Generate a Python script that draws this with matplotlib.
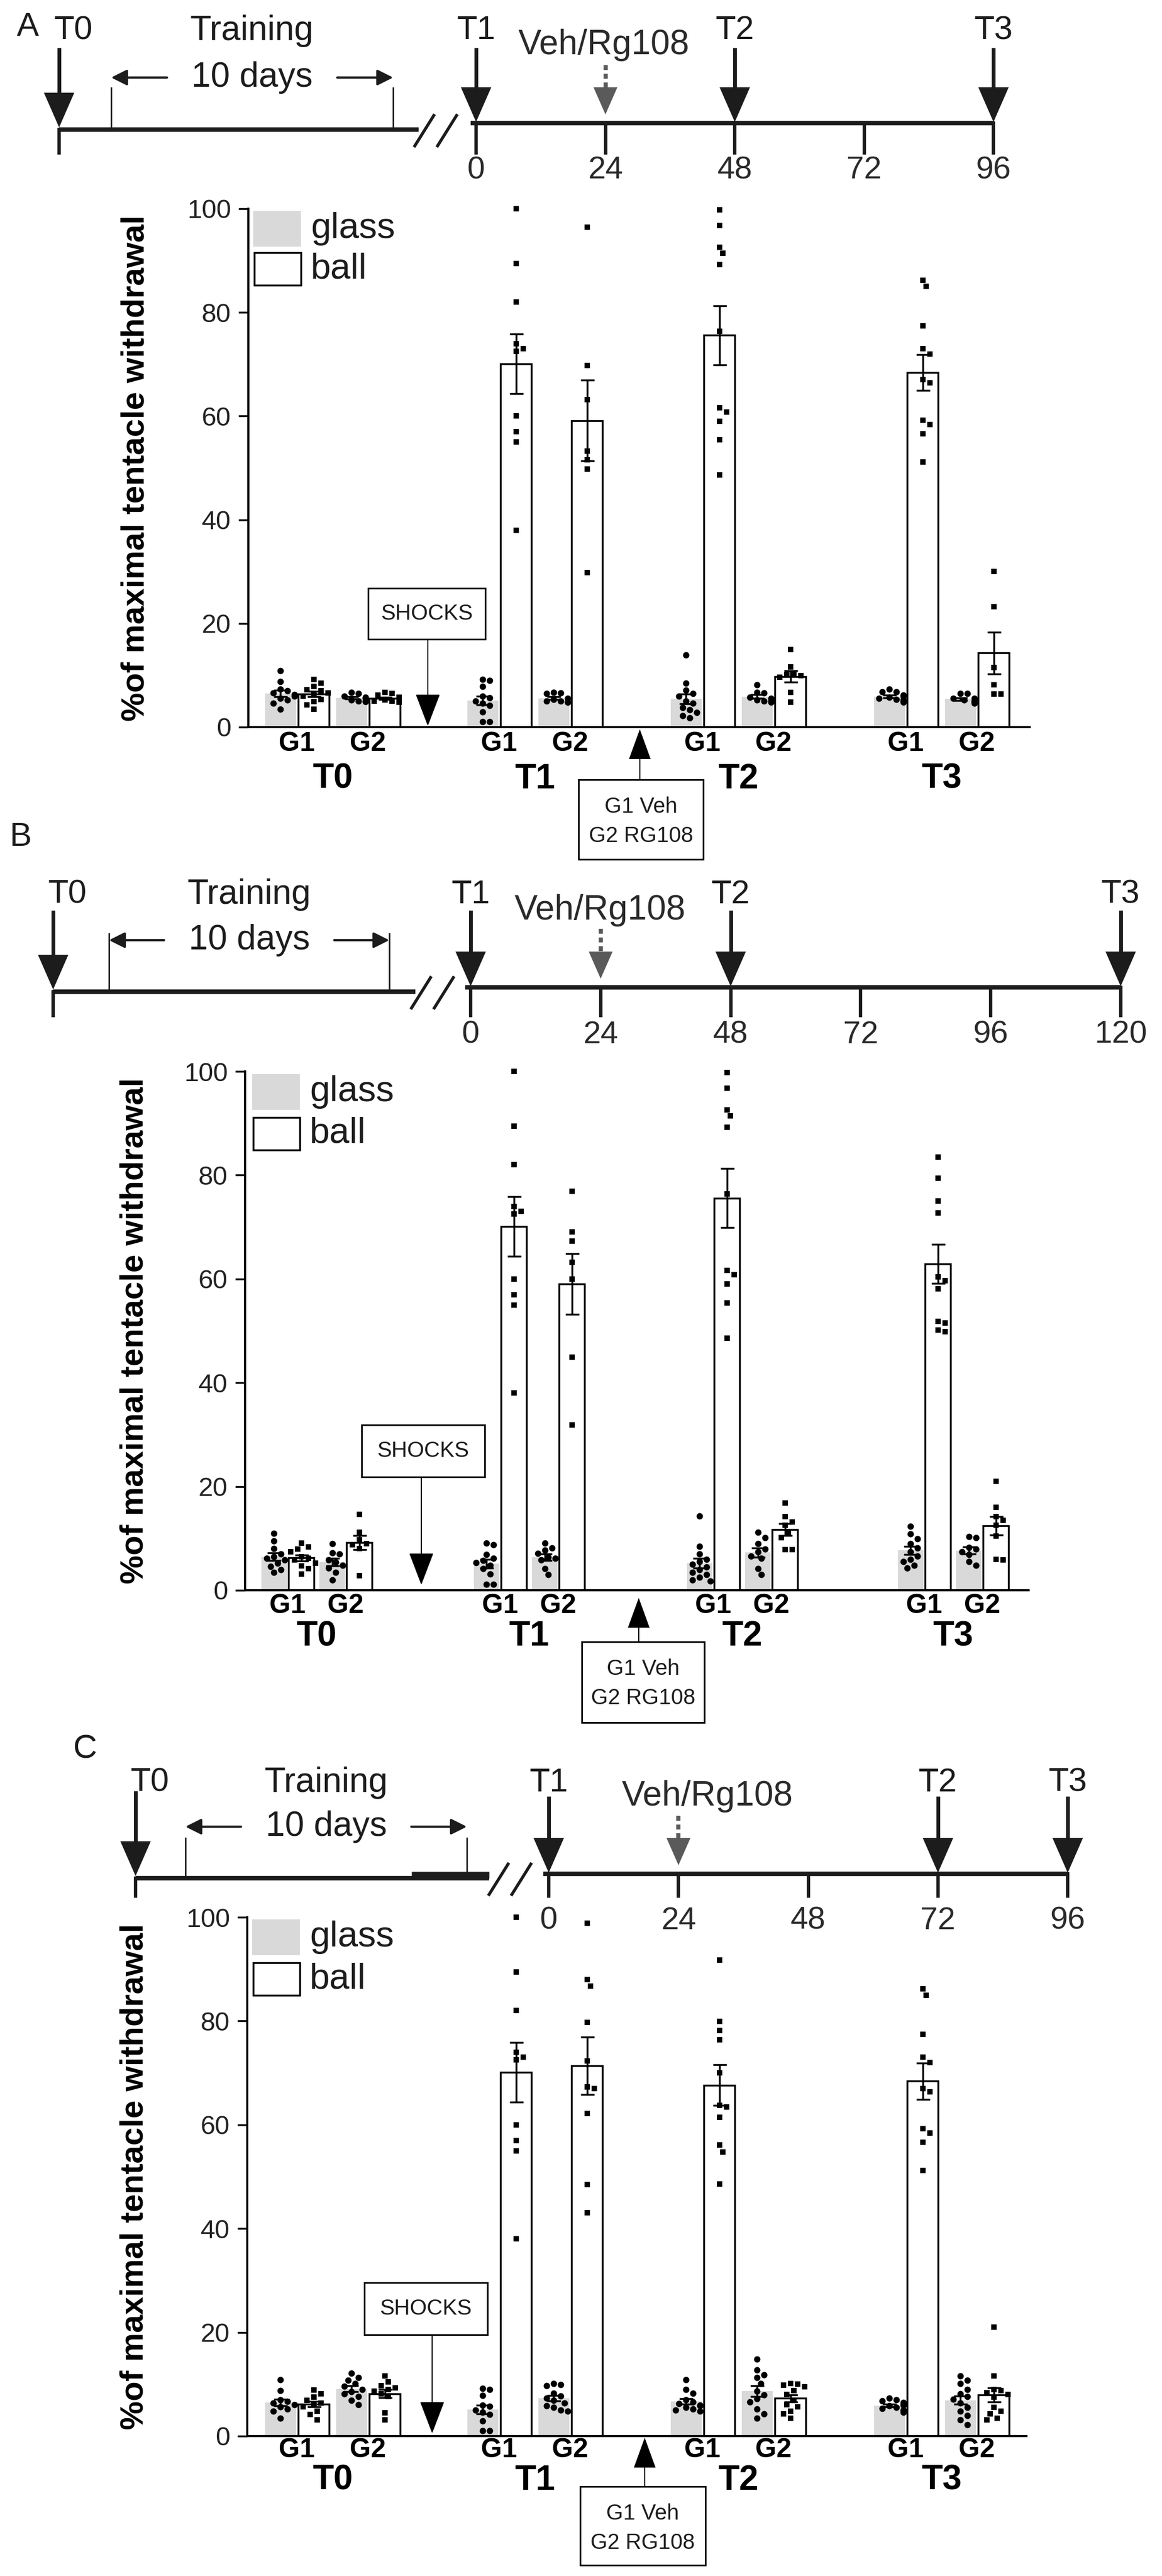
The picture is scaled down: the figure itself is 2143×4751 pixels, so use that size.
import numpy as np
import matplotlib.pyplot as plt
from matplotlib.patches import Rectangle, Polygon

plt.rcParams['font.family'] = ['Liberation Sans', 'DejaVu Sans']

# ---------------- data ----------------
# order of each list: T0G1, T0G2, T1G1, T1G2, T2G1, T2G2, T3G1, T3G2
times = ['T0', 'T1', 'T2', 'T3']
groups = ['G1', 'G2']

A_glass = [[10.9, 8.8, 7.3, 7.0, 6.6, 6.3, 6.0, 5.5, 5.2, 4.6, 3.5],
           [6.7, 6.5, 6.0, 5.8, 5.5, 5.2, 5.0, 5.0, 4.9],
           [9.2, 9.0, 7.8, 6.0, 5.7, 5.0, 4.6, 4.2, 2.9, 1.0, 1.0],
           [6.7, 6.6, 6.5, 5.5, 5.3, 5.0, 5.0, 4.8, 4.8],
           [13.9, 8.5, 7.1, 6.5, 6.0, 5.0, 4.6, 3.8, 3.3, 2.8, 2.2, 1.8],
           [8.2, 6.7, 6.6, 5.8, 5.5, 5.2, 5.0, 5.0, 4.8],
           [7.3, 6.8, 6.8, 6.2, 6.0, 5.8, 5.5, 5.3, 5.2, 5.0, 4.8],
           [6.5, 6.5, 5.5, 5.5, 5.2, 5.0, 5.0, 4.8, 4.6]]
A_ball = [[9.2, 8.5, 7.8, 7.2, 7.0, 6.6, 6.4, 6.0, 5.3, 4.9, 4.3, 3.5],
          [6.7, 6.5, 6.2, 5.8, 5.5, 5.2, 5.0, 5.0, 4.9, 4.8],
          [100, 89.4, 82, 74, 73, 72.5, 60, 57, 55, 38],
          [96.4, 69.8, 63.2, 53.2, 51.6, 49.8, 29.8],
          [99.8, 96.8, 92.6, 91.4, 89.2, 76.4, 61.6, 60.8, 59, 55.4, 48.6],
          [15, 11.6, 10.4, 10.1, 9.9, 9.6, 6.7, 4.8],
          [86.2, 85, 77.4, 73, 72, 67, 66.4, 59.2, 58.4, 56.6, 51.2],
          [30, 23.2, 11.5, 8.2, 6.4, 6.4]]

B_glass = [[11.0, 9.5, 8.0, 7.0, 6.5, 6.2, 5.8, 5.2, 4.6, 4.0, 3.4],
           [9.0, 7.2, 7.0, 5.9, 5.4, 4.8, 4.3, 3.4, 2.0],
           [9.1, 8.8, 6.9, 6.2, 5.7, 5.3, 4.8, 4.2, 3.1, 1.1, 1.1],
           [9.1, 8.1, 7.7, 7.1, 6.4, 6.2, 5.9, 4.2, 3.0],
           [14.3, 8.5, 7.0, 6.0, 5.5, 5.0, 4.5, 4.0, 3.5, 3.0, 2.5, 2.0, 1.8],
           [11.2, 10.1, 9.0, 7.9, 7.4, 6.6, 6.2, 4.2, 3.0],
           [12.3, 10.9, 9.9, 9.0, 8.2, 7.4, 6.6, 6.0, 5.5, 4.8, 4.3],
           [10.3, 10.1, 8.3, 7.9, 7.4, 6.9, 5.5, 4.8]]
B_ball = [[9.1, 8.4, 7.9, 7.4, 6.5, 6.2, 5.9, 5.2, 4.7, 4.2, 3.1],
          [14.6, 11.2, 9.7, 9.0, 8.8, 8.0, 2.8],
          [100, 89.4, 82, 74, 73, 72.5, 60, 57, 55, 38],
          [76.9, 69.1, 67.3, 63.2, 60, 44.9, 31.9],
          [99.8, 96.8, 92.6, 91.4, 89.2, 76.4, 61.6, 60.8, 59, 55.4, 48.6],
          [16.8, 14.2, 13.2, 12.5, 11.2, 10.1, 7.8, 7.8],
          [83.5, 79.4, 75, 72.7, 60.4, 59.7, 58.1, 51.8, 51.5, 50.2, 49.8],
          [21, 16, 14.2, 13.5, 12.5, 10.4, 6.0, 5.9]]

C_glass = [[10.9, 8.8, 7.0, 6.7, 6.4, 6.1, 5.6, 5.2, 4.8, 3.4],
           [12.1, 11.3, 10.8, 10.1, 9.6, 9.0, 8.6, 8.1, 7.6, 6.9, 6.1],
           [9.2, 9.0, 7.8, 6.0, 5.7, 5.0, 4.6, 4.2, 2.9, 1.0, 1.0],
           [10.1, 9.9, 9.7, 8.3, 7.7, 7.3, 6.9, 6.4, 5.9, 5.5, 5.0, 4.8],
           [10.9, 9.0, 8.3, 7.0, 6.6, 6.3, 6.0, 5.8, 5.5, 5.2, 5.0, 4.8],
           [14.8, 12.8, 11.8, 11.3, 10.1, 8.7, 7.9, 7.2, 6.6, 5.2, 4.3, 3.5],
           [7.3, 7.0, 6.8, 6.5, 6.2, 6.0, 5.8, 5.5, 5.3, 5.0, 4.8, 4.6],
           [11.6, 10.8, 10.1, 9.0, 8.1, 7.6, 7.1, 6.4, 5.5, 4.8, 4.0, 3.1, 2.2]]
C_ball = [[8.9, 8.1, 7.5, 6.9, 6.4, 6.1, 5.6, 4.8, 4.2, 3.1],
          [11.6, 10.4, 9.7, 9.3, 9.0, 8.7, 8.1, 7.6, 4.5, 3.1],
          [100, 89.4, 82, 74, 73, 72.5, 60, 57, 55, 38],
          [98.8, 88, 86.7, 79.7, 72.3, 67.3, 67, 62.2, 48.5, 43.1],
          [91.7, 79.9, 78.2, 76.4, 70, 63.7, 63.4, 61.4, 56.1, 54.8, 48.6],
          [10.1, 10.0, 9.8, 9.5, 8.8, 8.0, 6.9, 6.1, 5.6, 4.8, 4.3, 3.4],
          [86.2, 85, 77.4, 73, 72, 67, 66.4, 59.2, 58.4, 56.6, 51.2],
          [21, 11.6, 9.0, 8.8, 8.4, 8.0, 7.5, 5.5, 4.8, 4.3, 3.4, 3.1]]

# timeline hours
A_hours = [0, 24, 48, 72, 96]
B_hours = [0, 24, 48, 72, 96, 120]
C_hours = [0, 24, 48, 72, 96]
A_marks = [0, 48, 96]      # T1, T2, T3
B_marks = [0, 48, 120]
C_marks = [0, 72, 96]
drug_hour = 24

yticks = [0, 20, 40, 60, 80, 100]

# ---------------- layout (pixels) ----------------
W, H = 2143, 4751
fig = plt.figure(figsize=(W / 100, H / 100), dpi=100)
ov = fig.add_axes([0, 0, 1, 1])
ov.set_xlim(0, W)
ov.set_ylim(H, 0)
ov.axis('off')

DARK = '#1c1c1c'


def down_arrow(x, y0, tip, w=56, h=64, color=DARK, lw=5, ls='-'):
    ov.plot([x, x], [y0, tip - h + 4], color=color, lw=lw, ls=ls,
            solid_capstyle='butt')
    ov.add_patch(Polygon([[x - w / 2, tip - h], [x + w / 2, tip - h], [x, tip]],
                         closed=True, color=color, lw=0))


def up_arrow(x, y0, tip, w=40, h=55, color='black', lw=1.5):
    ov.plot([x, x], [y0, tip + h - 4], color=color, lw=lw)
    ov.add_patch(Polygon([[x - w / 2, tip + h], [x + w / 2, tip + h], [x, tip]],
                         closed=True, color=color, lw=0))


def swarm(vals, d=12.5, step=6.5, scale=9.56, maxoff=22):
    placed = []
    offs = []
    for v in vals:
        yp = v * scale
        k = 0
        cands = [0]
        while len(cands) < 12:
            k += 1
            cands += [k * step, -k * step]
        for c in cands:
            ok = all((c - px) ** 2 + (yp - py) ** 2 >= d * d for px, py in placed)
            if ok or abs(c) >= maxoff:
                break
        placed.append((c, yp))
        offs.append(c)
    return np.array(offs)


def draw_panel(L, glass, ball, hours, marks):
    # ---- timeline ----
    hx = lambda h: L['h0'] + h * L['hs']
    ov.text(L['letter_xy'][0], L['letter_xy'][1], L['letter'], fontsize=44,
            ha='center', va='center', color=DARK)
    yl, yr = L['yleft'], L['yright']
    ov.plot([L['t0x'], L['left_end']], [yl, yl], color=DARK, lw=6,
            solid_capstyle='butt')
    if L.get('thick'):
        ov.plot(L['thick'], [yl - 6, yl - 6], color=DARK, lw=9,
                solid_capstyle='butt')
    ov.plot([hx(0) - 10, hx(hours[-1])], [yr, yr], color=DARK, lw=6,
            solid_capstyle='butt')
    # break marks
    bx = L['brk']
    for dx in (0, 42):
        ov.plot([bx + dx, bx + dx + 35], [yl + 30, yl - 26], color=DARK, lw=4)
    # T0
    ov.plot([L['t0x'], L['t0x']], [yl, L['tickb']], color=DARK, lw=4.5)
    down_arrow(L['t0x'], L['arr_top'], yl - 4)
    ov.text(L['t0x'] + 26, L['tl_y'], 'T0', fontsize=44, ha='center',
            va='center', color=DARK)
    # training
    for tx in L['train']:
        ov.plot([tx, tx], [L['train_top'], yl], color=DARK, lw=2)
    mid = (L['train'][0] + L['train'][1]) / 2
    ov.text(mid, L['tl_y'], 'Training', fontsize=46, ha='center', va='center',
            color=DARK)
    ov.text(mid, L['days_y'], '10 days', fontsize=46, ha='center', va='center',
            color=DARK)
    ov.annotate('', xy=(L['train'][0], L['days_y']),
                xytext=(mid - 157, L['days_y']),
                arrowprops=dict(arrowstyle='-|>', color=DARK, lw=3,
                                mutation_scale=44, shrinkA=0, shrinkB=0))
    ov.annotate('', xy=(L['train'][1], L['days_y']),
                xytext=(mid + 157, L['days_y']),
                arrowprops=dict(arrowstyle='-|>', color=DARK, lw=3,
                                mutation_scale=44, shrinkA=0, shrinkB=0))
    # hour ticks
    for h in hours:
        ov.plot([hx(h), hx(h)], [yr, L['tickb']], color=DARK, lw=4.5)
        ov.text(hx(h), L['hl_y'], str(h), fontsize=42, ha='center',
                va='center', color='#2a2a2a')
    for name, h in zip(['T1', 'T2', 'T3'], marks):
        down_arrow(hx(h), L['arr_top2'], yr - 2)
        ov.text(hx(h), L['tl_y'], name, fontsize=44, ha='center', va='center',
                color=DARK)
    # drug arrow
    down_arrow(hx(drug_hour), L['veh_top'], yr - 16, w=44, h=50,
               color='#5a5a5a', lw=5.5, ls=(0, (1.2, 0.9)))
    ov.text(L['veh_x'], L['veh_y'], 'Veh/Rg108', fontsize=46, ha='center',
            va='center', color='#2a2a2a')

    # ---- bar chart ----
    left, right, y0, y100 = L['ax']
    ax = fig.add_axes([left / W, 1 - y0 / H, (right - left) / W, (y0 - y100) / H])
    ax.set_facecolor('none')
    ax.set_xlim(left, right)
    ax.set_ylim(0, 100)
    for s in ['top', 'right']:
        ax.spines[s].set_visible(False)
    for s in ['left', 'bottom']:
        ax.spines[s].set_linewidth(2.8)
    ax.set_xticks([])
    ax.set_yticks(yticks)
    ax.tick_params(axis='y', length=13, width=2.5, pad=10, labelsize=35,
                   labelcolor='#222222')
    ax.set_ylabel('%of maximal tentacle withdrawal', fontsize=43,
                  fontweight='bold', labelpad=0)
    ax.yaxis.set_label_coords((L['ylab_x'] - left) / (right - left), 0.5)

    bw = L['bw']
    k = 0
    for ti, g0 in enumerate(L['groups']):
        for gi in range(2):
            xg = g0 + L['offs'][2 * gi]
            xb = g0 + L['offs'][2 * gi + 1]
            gv = np.array(glass[k])
            bv = np.array(ball[k])
            for x, v, kind in ((xg, gv, 'glass'), (xb, bv, 'ball')):
                m = v.mean()
                se = v.std(ddof=1) / np.sqrt(len(v))
                if kind == 'glass':
                    ax.bar(x, m, bw, color='#d9d9d9', edgecolor='none', zorder=2)
                    mk, ms = 'o', 8.5
                else:
                    ax.bar(x, m, bw, color='white', edgecolor='black',
                           linewidth=2.5, zorder=2)
                    mk, ms = 's', 7.5
                order = np.sort(v)[::-1]
                ax.plot(x + swarm(order), order, ls='none', marker=mk, ms=ms,
                        color='black', mew=0, zorder=3, clip_on=False)
                ax.errorbar(x, m, yerr=se, fmt='none', ecolor='black',
                            elinewidth=2.5, capsize=9, capthick=2.5, zorder=4)
            ov.text((xg + xb) / 2, L['g_y'], groups[gi], fontsize=36,
                    fontweight='bold', ha='center', va='center')
            k += 1
        gmid = g0 + (L['offs'][0] + L['offs'][3]) / 2
        ov.text(gmid, L['t_y'], times[ti], fontsize=46, fontweight='bold',
                ha='center', va='center')

    # legend
    lx = L['leg_x']
    ly1, ly2 = L['leg_y']
    ov.add_patch(Rectangle((lx, ly1 - 33), 88, 66, facecolor='#d9d9d9',
                           edgecolor='none'))
    ov.add_patch(Rectangle((lx + 2, ly2 - 30), 86, 60, facecolor='white',
                           edgecolor='black', lw=2.5))
    ov.text(lx + 106, ly1, 'glass', fontsize=48, va='center', color=DARK)
    ov.text(lx + 106, ly2, 'ball', fontsize=48, va='center', color=DARK)

    # shocks box
    sx0, sx1, sy0, sy1 = L['shock']
    ov.add_patch(Rectangle((sx0, sy0), sx1 - sx0, sy1 - sy0, facecolor='white',
                           edgecolor='black', lw=2.2))
    ov.text((sx0 + sx1) / 2, (sy0 + sy1) / 2, 'SHOCKS', fontsize=29,
            ha='center', va='center', color=DARK)
    sxa = L['shock_ax']
    ov.plot([sxa, sxa], [sy1, L['shock_tip'] - 52], color='black', lw=1.5)
    ov.add_patch(Polygon([[sxa - 21, L['shock_tip'] - 55],
                          [sxa + 21, L['shock_tip'] - 55],
                          [sxa, L['shock_tip']]], closed=True, color='black'))

    # drug box
    dx0, dx1, dy0, dy1 = L['drug']
    ov.add_patch(Rectangle((dx0, dy0), dx1 - dx0, dy1 - dy0, facecolor='white',
                           edgecolor='black', lw=2.2))
    ov.text((dx0 + dx1) / 2, dy0 + 50, 'G1 Veh', fontsize=29, ha='center',
            va='center', color=DARK)
    ov.text((dx0 + dx1) / 2, dy0 + 104, 'G2 RG108', fontsize=29, ha='center',
            va='center', color=DARK)
    up_arrow(L['drug_ax'], dy0, L['drug_tip'])


AC_offs = [0, 61.5, 131, 192.5]

LA = dict(letter='A', letter_xy=(51, 51), yleft=239, yright=227, t0x=109,
          left_end=772, brk=765, tickb=282, arr_top=88, arr_top2=88, tl_y=57,
          train=(205, 725), train_top=162, days_y=143, h0=878, hs=9.94,
          hl_y=314, veh_top=120, veh_x=1114, veh_y=83,
          ax=(458, 1899, 1341, 385), ylab_x=278, bw=57,
          groups=[517, 890, 1265, 1640], offs=AC_offs, g_y=1372, t_y=1437,
          leg_x=467, leg_y=(422, 496), shock=(679, 895, 1085, 1179),
          shock_ax=789, shock_tip=1337, drug=(1067, 1297, 1438, 1585),
          drug_ax=1180, drug_tip=1345)

LB = dict(letter='B', letter_xy=(38, 1545), yleft=1829, yright=1821, t0x=98,
          left_end=766, brk=759, tickb=1873, arr_top=1679, arr_top2=1679,
          tl_y=1650, train=(201, 718), train_top=1722, days_y=1734, h0=868,
          hs=9.99, hl_y=1909, veh_top=1713, veh_x=1107, veh_y=1679,
          ax=(452, 1897, 2933, 1976), ylab_x=275, bw=47,
          groups=[505, 897, 1290, 1679], offs=[0, 50.5, 107.5, 157.5],
          g_y=2962, t_y=3018, leg_x=465, leg_y=(2014, 2091),
          shock=(667, 894, 2628, 2724), shock_ax=777, shock_tip=2921,
          drug=(1073, 1299, 3028, 3177), drug_ax=1178, drug_tip=2947)

LC = dict(letter='C', letter_xy=(157, 3227), yleft=3464, yright=3456, t0x=250,
          left_end=902, thick=(759, 902), brk=902, tickb=3497, arr_top=3303,
          arr_top2=3313, tl_y=3288, train=(342, 861), train_top=3390,
          days_y=3369, h0=1012, hs=9.97, hl_y=3543, veh_top=3349, veh_x=1305,
          veh_y=3313, ax=(456, 1893, 4493, 3536), ylab_x=275, bw=57,
          groups=[517, 890, 1265, 1640], offs=AC_offs, g_y=4519, t_y=4575,
          leg_x=465, leg_y=(3573, 3650), shock=(672, 899, 4210, 4306),
          shock_ax=797, shock_tip=4486, drug=(1070, 1301, 4586, 4731),
          drug_ax=1189, drug_tip=4496)

draw_panel(LA, A_glass, A_ball, A_hours, A_marks)
draw_panel(LB, B_glass, B_ball, B_hours, B_marks)
draw_panel(LC, C_glass, C_ball, C_hours, C_marks)

fig.savefig('out.png', dpi=100)
